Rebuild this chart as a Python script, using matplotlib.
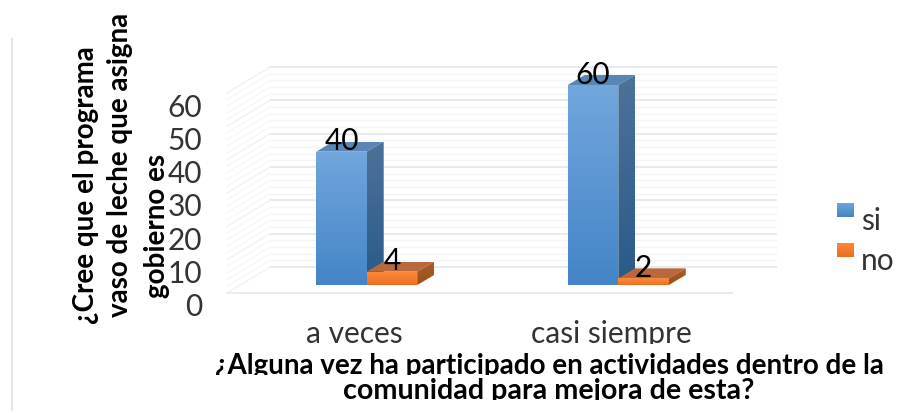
import numpy as np
import matplotlib
matplotlib.use('Agg')
import matplotlib.pyplot as plt
from matplotlib.patches import Polygon, Rectangle
from matplotlib.colors import LinearSegmentedColormap
from matplotlib.transforms import IdentityTransform

categories = ['a veces', 'casi siempre']
si_values = [40, 60]
no_values = [4, 2]
series_names = ['si', 'no']
y_ticks = [0, 10, 20, 30, 40, 50, 60]
minor_ticks = list(range(0, 62, 2))
y_title = ['¿Cree que el programa', 'vaso de leche que asigna', 'gobierno es']
x_title = ['¿Alguna vez ha participado en actividades dentro de la',
           'comunidad para mejora de esta?']

W, H = 903, 413
plt.rcParams['font.family'] = ['Lato', 'DejaVu Sans']
fig = plt.figure(figsize=(W / 100, H / 100), dpi=100)
ax = fig.add_axes([0, 0, 1, 1])

# scale: category spacing 251.6 px, 10 units = 33.3 px
PX_X = 251.6
PX_Y = 200 / 60
ax.set_xlim(-366.7 / PX_X, (W - 366.7) / PX_X)
ax.set_ylim(-(H - 285) / PX_Y, 285 / PX_Y)
ax.axis('off')
dx = lambda p: p / PX_X
dy = lambda p: p / PX_Y

bar_w = dx(50.5)
depth_x, depth_y = dx(17), dy(10)

# blue / orange gradients, top colour then bottom colour
FACES = {
    'si': {'front': ('#72a6dd', '#4485c7'), 'side': ('#4d7299', '#2a5a8a'), 'top': ('#5a86b6', '#5a86b6')},
    'no': {'front': ('#fb8b3c', '#ec701f'), 'side': ('#a85c28', '#9c5019'), 'top': ('#b9693c', '#b9693c')},
}


def grad_poly(pts, colors, zorder=3):
    pts = np.array(pts)
    cmap = LinearSegmentedColormap.from_list('g', colors)
    im = ax.imshow(np.linspace(0, 1, 64).reshape(-1, 1), cmap=cmap, aspect='auto', origin='upper',
                   extent=(pts[:, 0].min(), pts[:, 0].max(), pts[:, 1].min(), pts[:, 1].max()),
                   zorder=zorder, interpolation='bilinear')
    im.set_clip_path(Polygon(pts, closed=True, transform=ax.transData))


def bar3d(x0, v, faces):
    x1 = x0 + bar_w
    grad_poly([(x0, v), (x1, v), (x1 + depth_x, v + depth_y), (x0 + depth_x, v + depth_y)], faces['top'])
    grad_poly([(x1, 0), (x1 + depth_x, depth_y), (x1 + depth_x, v + depth_y), (x1, v)], faces['side'])
    grad_poly([(x0, 0), (x1, 0), (x1, v), (x0, v)], faces['front'])


# walls
back_l, back_r = dx(270 - 366.7), dx(775.7 - 366.7)
front_l, front_r = dx(227 - 366.7), dx(732 - 366.7)
back_off, front_off = dy(18), dy(-8)
for v in minor_ticks:
    major = v in y_ticks
    col = '#e6eaf1' if major else '#f3f5f8'
    lw = 1.4 if major else 1.0
    ax.plot([back_l, back_r], [v + back_off, v + back_off], color=col, lw=lw, zorder=1)
    ax.plot([front_l, back_l], [v + front_off, v + back_off], color='#eef1f6' if major else '#f6f7fa', lw=1.0, zorder=1)
ax.plot([front_l, front_r], [front_off, front_off], color='#e6eaf1', lw=1.4, zorder=1)

# bars and value labels
for i, (a, b) in enumerate(zip(si_values, no_values)):
    bar3d(i - bar_w, a, FACES['si'])
    bar3d(i, b, FACES['no'])
    ax.annotate(str(a), (i - bar_w / 2, a), xytext=(0, 7.5), textcoords='offset points',
                ha='center', va='center', fontsize=21.5, color='black', zorder=5)
    ax.annotate(str(b), (i + bar_w / 2, b), xytext=(0, 7.5), textcoords='offset points',
                ha='center', va='center', fontsize=21.5, color='black', zorder=5)

# y tick labels sit below the front of the axis
for v in y_ticks:
    ax.text(dx(202 - 366.7), v + dy(-22.5), str(v), ha='right', va='center', fontsize=21.5, color='#333333')


def cut_below(t, y_px):
    # reference text is cropped at the bottom by its text box
    t.set_clip_on(True)
    t.set_clip_path(Rectangle((0, H - y_px), W, y_px, transform=IdentityTransform()))


# category labels, a bit off the group centres as in the reference
for i, (name, off) in enumerate(zip(categories, (-12, -7))):
    t = ax.text(i + dx(off), dy(285 - 334), name, ha='center', va='center', fontsize=21.5, color='#333333')
    cut_below(t, 344)

for line, xc, yc, fs in zip(x_title, (549, 549), (366, 391), (20, 20.6)):
    t = ax.text(dx(xc - 366.7), dy(285 - yc), line, ha='center', va='center', fontsize=fs,
                fontweight='bold', color='black')
    cut_below(t, yc + 9)

for line, xc, yc in zip(y_title, (86, 120, 157), (185, 165, 226)):
    ax.text(dx(xc - 366.7), dy(285 - yc), line, ha='center', va='center', rotation=90, fontsize=20,
            fontweight='bold', color='black')

# legend
for name, key, y_sw in zip(series_names, ('si', 'no'), (203, 243)):
    sw = fig.add_axes([837 / W, 1 - (y_sw + 14) / H, 17 / W, 14 / H])
    sw.imshow(np.linspace(0, 1, 32).reshape(-1, 1), aspect='auto',
              cmap=LinearSegmentedColormap.from_list('g', FACES[key]['front']))
    sw.axis('off')
    ax.text(dx(861 - 366.7), dy(285 - (y_sw + 18.5)), name, ha='left', va='center', fontsize=21.5, color='#333333')

# stray border of the text frame on the left
ax.plot([dx(12 - 366.7)] * 2, [dy(285 - 39), dy(285 - 410)], color='#e1e6ef', lw=1.6)

ax.set_xlim(-366.7 / PX_X, (W - 366.7) / PX_X)
ax.set_ylim(-(H - 285) / PX_Y, 285 / PX_Y)
fig.savefig('out.png', dpi=100)
